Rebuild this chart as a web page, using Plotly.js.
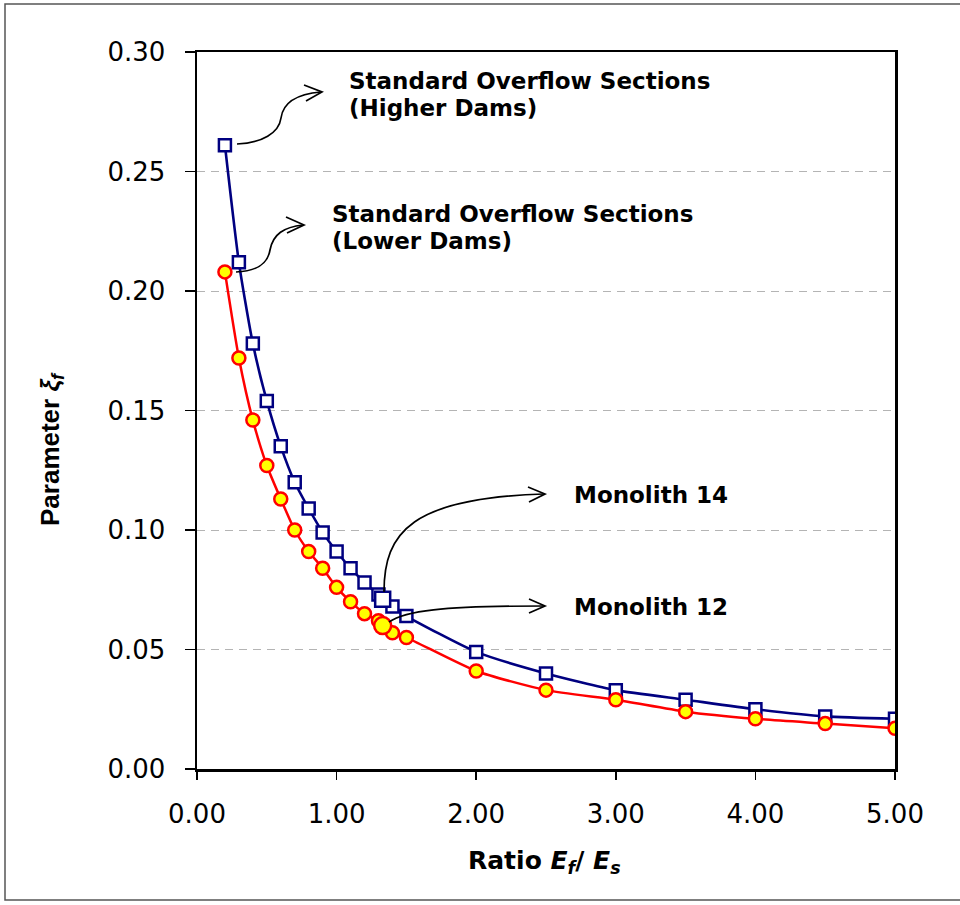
<!DOCTYPE html>
<html>
<head>
<meta charset="utf-8">
<script src="https://cdn.plot.ly/plotly-3.0.1.min.js"></script>
<style>html,body{margin:0;padding:0;background:#fff;}#chart{width:960px;height:905px;}</style>
</head>
<body>
<div id="chart"></div>
<script>
// ---- data ----
const ratio = [0.2, 0.3, 0.4, 0.5, 0.6, 0.7, 0.8, 0.9, 1.0, 1.1, 1.2, 1.3, 1.4, 1.5, 2.0, 2.5, 3.0, 3.5, 4.0, 4.5, 5.0];
const higherDams = [0.261, 0.212, 0.178, 0.154, 0.135, 0.120, 0.109, 0.099, 0.091, 0.084, 0.078, 0.073, 0.068, 0.064, 0.049, 0.040, 0.033, 0.029, 0.025, 0.022, 0.021];
const lowerDams = [0.208, 0.172, 0.146, 0.127, 0.113, 0.100, 0.091, 0.084, 0.076, 0.070, 0.065, 0.062, 0.057, 0.055, 0.041, 0.033, 0.029, 0.024, 0.021, 0.019, 0.017];
const monolithRatio = [1.33];
const monolith14 = [0.071];
const monolith12 = [0.060];
const xTickVals = [0, 1, 2, 3, 4, 5];
const xTickText = ['0.00', '1.00', '2.00', '3.00', '4.00', '5.00'];
const yTickVals = [0, 0.05, 0.10, 0.15, 0.20, 0.25, 0.30];
const yTickText = ['0.00', '0.05', '0.10', '0.15', '0.20', '0.25', '0.30'];

// ---- layout geometry ----
const W = 960, H = 905;
const M = {l: 197, r: 65, t: 52, b: 136};
const plotW = W - M.l - M.r, plotH = H - M.t - M.b;
const xRange = [0, 5], yRange = [0, 0.30];
// convert screen position to data / paper coordinates (for decorative callouts)
const dx = px => xRange[0] + (px - M.l) / plotW * (xRange[1] - xRange[0]);
const dy = py => yRange[0] + (M.t + plotH - py) / plotH * (yRange[1] - yRange[0]);
const qx = px => (px - M.l) / plotW;
const qy = py => (M.t + plotH - py) / plotH;
function pathFrom(cmds) {
  return cmds.map(c => c[0] + ' ' + c.slice(1).reduce((s, v, i, a) => {
    if (i % 2 === 0) s.push(dx(v) + ',' + dy(a[i + 1]));
    return s;
  }, []).join(' ')).join(' ');
}
const FONT = 'DejaVu Sans, Arial, sans-serif';
const FONT2 = 'Liberation Sans, Arial, sans-serif';

const arrowPaths = [
  [['M', 237, 144], ['C', 262, 143, 279, 133, 281, 118], ['C', 283, 103, 297, 94, 321, 92]],
  [['M', 304, 85], ['L', 322, 92], ['L', 306, 101]],
  [['M', 236, 272], ['C', 260, 271, 268, 262, 270, 250], ['C', 273, 234, 284, 227, 303, 225]],
  [['M', 286, 217], ['L', 304, 225], ['L', 287, 233]],
  [['M', 384, 592], ['C', 384, 532, 412, 498, 544, 494]],
  [['M', 528, 487], ['L', 545, 494], ['L', 529, 502]],
  [['M', 389, 622], ['C', 405, 611, 440, 606, 544, 606]],
  [['M', 529, 599], ['L', 545, 606], ['L', 529, 613]]
];

const shapes = arrowPaths.map(p => ({
  type: 'path', xref: 'x', yref: 'y', path: pathFrom(p),
  line: {color: '#000', width: 1.7}
}));
// outer frame (right side falls outside the picture)
shapes.push({
  type: 'rect', xref: 'paper', yref: 'paper',
  x0: qx(5), x1: qx(1010), y0: qy(900), y1: qy(4),
  line: {color: '#555', width: 1.5}, fillcolor: 'rgba(0,0,0,0)', layer: 'below'
});

const annFont = {family: FONT, size: 23, color: '#000', weight: 'bold'};
const labels = [
  ['Standard Overflow Sections', 347, 81],
  ['(Higher Dams)', 347, 108],
  ['Standard Overflow Sections', 330, 214],
  ['(Lower Dams)', 330, 241],
  ['Monolith 14', 572, 495],
  ['Monolith 12', 572, 607]
];
const annotations = labels.map(([t, px, py]) => ({
  text: '<b>' + t + '</b>', x: dx(px), y: dy(py), xref: 'x', yref: 'y',
  xanchor: 'left', yanchor: 'middle', showarrow: false, font: annFont
}));
// axis titles
annotations.push({
  text: '<b>Ratio <i>E<sub>f</sub></i>/ <i>E<sub>s</sub></i></b>',
  x: qx(544), y: qy(862), xref: 'paper', yref: 'paper',
  xanchor: 'center', yanchor: 'middle', showarrow: false,
  font: {family: FONT, size: 25, color: '#000', weight: 'bold'}
});
annotations.push({
  text: '<b>Parameter <i>ξ<sub>f</sub></i></b>',
  x: qx(52), y: qy(449), xref: 'paper', yref: 'paper', textangle: -90,
  xanchor: 'center', yanchor: 'middle', showarrow: false,
  font: {family: FONT2, size: 26, color: '#000', weight: 'bold'}
});

const traces = [
  {
    x: ratio, y: higherDams, mode: 'lines+markers', name: 'Higher Dams',
    line: {color: '#000080', width: 2.6, shape: 'spline', smoothing: 0.6},
    marker: {symbol: 'square', size: 12, color: '#fff', line: {color: '#000080', width: 2.5}}
  },
  {
    x: ratio, y: lowerDams, mode: 'lines+markers', name: 'Lower Dams',
    line: {color: '#ff0000', width: 2.5, shape: 'spline', smoothing: 0.6},
    marker: {symbol: 'circle', size: 13, color: '#ffff00', line: {color: '#ff0000', width: 2.5}}
  },
  {
    x: monolithRatio, y: monolith14, mode: 'markers', name: 'Monolith 14',
    marker: {symbol: 'square', size: 15, color: '#fff', line: {color: '#000080', width: 2.5}}
  },
  {
    x: monolithRatio, y: monolith12, mode: 'markers', name: 'Monolith 12',
    marker: {symbol: 'circle', size: 17, color: '#ffff00', line: {color: '#ff0000', width: 2.5}}
  }
];

const layout = {
  width: W, height: H,
  margin: M,
  paper_bgcolor: '#fff', plot_bgcolor: '#fff',
  showlegend: false,
  font: {family: FONT, color: '#000'},
  xaxis: {
    range: xRange, tickvals: xTickVals, ticktext: xTickText,
    showgrid: false, zeroline: false,
    showline: true, linecolor: '#000', linewidth: 2.5, mirror: true,
    ticks: 'outside', ticklen: 8, tickwidth: 1.5, tickcolor: '#000',
    ticklabelstandoff: 12,
    tickfont: {family: FONT, size: 26, color: '#000'}
  },
  yaxis: {
    range: yRange, tickvals: yTickVals, ticktext: yTickText,
    showgrid: true, gridcolor: '#b4b4b4', gridwidth: 1, griddash: '8px,6px',
    zeroline: false,
    showline: true, linecolor: '#000', linewidth: 2.5, mirror: true,
    ticks: 'outside', ticklen: 10, tickwidth: 1.5, tickcolor: '#000',
    ticklabelstandoff: 14,
    tickfont: {family: FONT, size: 26, color: '#000'}
  },
  shapes: shapes,
  annotations: annotations
};

Plotly.newPlot('chart', traces, layout, {displayModeBar: false, staticPlot: true});
</script>
</body>
</html>
